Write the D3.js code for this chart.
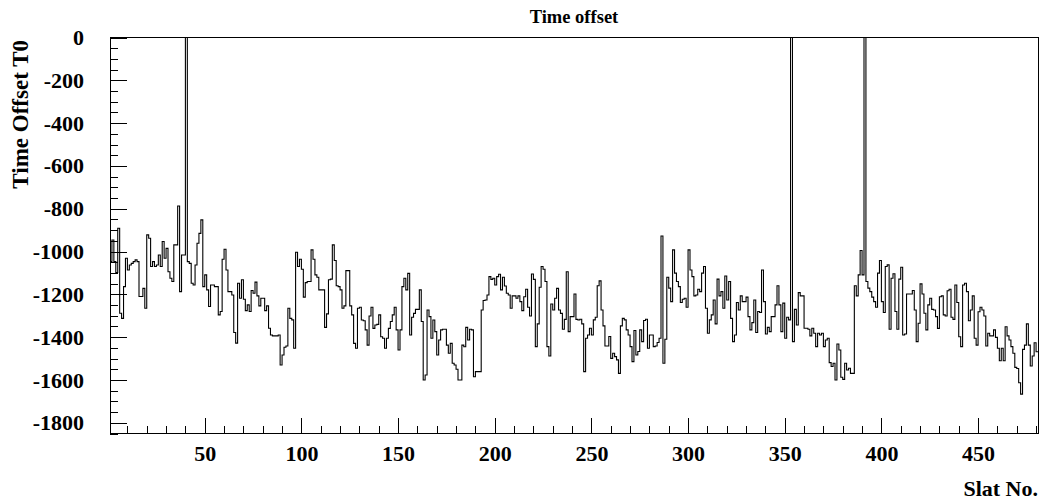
<!DOCTYPE html>
<html><head><meta charset="utf-8">
<script src="https://cdn.jsdelivr.net/npm/d3@7"></script>
<style>body{margin:0;background:#fff;} svg{display:block;}</style>
</head><body>
<svg id="chart" width="1041" height="500"></svg>
<script>
// ---- data ----
const chartTitle = "Time offset";
const xTitle = "Slat No.";
const yTitle = "Time Offset T0";
const firstSlat = 1;
const lastSlatEdge = 481;
const timeOffset = [
-1047,-946,-1047,-1098,-891,-1288,-1312,-1164,-1031,-1086,
-1063,-1055,-1047,-1039,-1047,-1210,-1210,-1172,-1265,-922,
-938,-1070,-1047,-1070,-1063,-1016,-1070,-953,-1031,-985,
-1094,-1125,-1140,-969,-969,-787,-1187,-1016,-1016,0,
-1047,-1055,-1148,-1156,-1063,-961,-915,-852,-1164,-1109,
-1179,-1257,-1156,-1156,-1164,-1164,-1296,-1280,-1036,-989,
-1086,-1187,-1187,-1203,-1378,-1428,-1148,-1218,-1132,-1223,
-1276,-1249,-1280,-1182,-1195,-1143,-1207,-1254,-1218,-1218,
-1276,-1254,-1358,-1390,-1394,-1394,-1394,-1390,-1530,-1483,
-1447,-1441,-1265,-1312,-1319,-1452,-1003,-1070,-1036,-1083,
-1213,-1145,-1140,-1140,-992,-1036,-1109,-1120,-1179,-1179,
-1179,-1354,-1291,-1132,-1129,-969,-1042,-1160,-1164,-1179,
-1265,-1254,-1089,-1089,-1254,-1296,-1429,-1452,-1265,-1260,
-1320,-1323,-1366,-1437,-1301,-1260,-1359,-1343,-1340,-1296,
-1398,-1405,-1452,-1405,-1359,-1327,-1296,-1260,-1366,-1460,
-1366,-1164,-1125,-1179,-1102,-1390,-1307,-1289,-1270,-1270,
-1179,-1327,-1600,-1577,-1273,-1304,-1405,-1320,-1374,-1483,
-1413,-1366,-1363,-1363,-1437,-1475,-1429,-1522,-1530,-1550,
-1600,-1600,-1437,-1445,-1354,-1413,-1363,-1366,-1585,-1561,
-1561,-1561,-1273,-1229,-1226,-1203,-1117,-1130,-1125,-1156,
-1117,-1106,-1179,-1120,-1161,-1195,-1203,-1265,-1207,-1207,
-1218,-1207,-1234,-1276,-1211,-1176,-1260,-1301,-1105,-1130,
-1444,-1338,-1167,-1070,-1083,-1140,-1444,-1488,-1245,-1273,
-1218,-1172,-1273,-1289,-1363,-1317,-1094,-1374,-1304,-1304,
-1198,-1317,-1320,-1316,-1338,-1561,-1405,-1390,-1358,-1390,
-1319,-1307,-1160,-1137,-1273,-1347,-1441,-1441,-1397,-1499,
-1475,-1491,-1506,-1569,-1347,-1312,-1319,-1366,-1390,-1444,
-1514,-1369,-1483,-1467,-1366,-1421,-1322,-1316,-1452,-1390,
-1390,-1444,-1441,-1425,-1405,-927,-1522,-1410,-1120,-1171,
-1234,-992,-1101,-1140,-1164,-1238,-1223,-1218,-1260,-992,
-1086,-1117,-1207,-1203,-1176,-1187,-1101,-1070,-1265,-1382,
-1319,-1296,-1226,-1338,-1129,-1207,-1187,-1265,-1114,-1226,
-1140,-1312,-1421,-1390,-1238,-1273,-1207,-1234,-1234,-1213,
-1304,-1366,-1332,-1226,-1378,-1280,-1285,-1086,-1234,-1385,
-1354,-1374,-1304,-1304,-1249,-1160,-1249,-1374,-1241,-1405,
-1307,-1319,0,-1421,-1270,-1343,-1192,-1207,-1207,-1358,
-1358,-1363,-1394,-1358,-1382,-1444,-1382,-1390,-1382,-1444,
-1413,-1405,-1519,-1537,-1522,-1600,-1432,-1460,-1587,-1597,
-1522,-1553,-1545,-1569,-1569,-1160,-1207,-1109,-995,-1109,
0,-1140,-1171,-1187,-1213,-1234,-1260,-1101,-1042,-1234,
-1285,-1070,-1062,-1363,-1125,-1104,-1280,-1363,-1129,-1073,
-1390,-1385,-1198,-1198,-1198,-1182,-1273,-1421,-1335,-1151,
-1198,-1288,-1366,-1249,-1218,-1270,-1273,-1304,-1359,-1211,
-1207,-1296,-1301,-1183,-1176,-1307,-1317,-1156,-1238,-1398,
-1444,-1156,-1148,-1187,-1323,-1273,-1207,-1405,-1437,-1281,
-1260,-1273,-1301,-1441,-1382,-1394,-1394,-1366,-1401,-1452,
-1510,-1452,-1510,-1351,-1394,-1413,-1444,-1475,-1541,-1546,
-1613,-1666,-1457,-1437,-1338,-1437,-1535,-1488,-1426,-1468
];
const xMajorTicks = [50,100,150,200,250,300,350,400,450];
const xMinorTicks = [10,20,30,40,60,70,80,90,110,120,130,140,160,170,180,190,210,220,230,240,260,270,280,290,310,320,330,340,360,370,380,390,410,420,430,440,460,470,480];
const yMajorTicks = [0,-200,-400,-600,-800,-1000,-1200,-1400,-1600,-1800];
const yMinorTicks = [-50,-100,-150,-250,-300,-350,-450,-500,-550,-650,-700,-750,-850,-900,-950,-1050,-1100,-1150,-1250,-1300,-1350,-1450,-1500,-1550,-1650,-1700,-1750,-1850];
const yMin = -1850, yMax = 0;

// ---- drawing ----
const svg = d3.select("#chart");
const L = 110, R = 1038, T = 37.5, B = 433.5;
const x = d3.scaleLinear().domain([firstSlat, lastSlatEdge]).range([L, R]);
const y = d3.scaleLinear().domain([yMin, yMax]).range([B, T]);
const font = "'Liberation Serif', 'Times New Roman', serif";
const plainNum = d => String(d);

// histogram step line
const pts = timeOffset.map((v, i) => [firstSlat + i, v]);
pts.push([lastSlatEdge, timeOffset[timeOffset.length - 1]]);
const line = d3.line().x(d => x(d[0])).y(d => y(d[1])).curve(d3.curveStepAfter);
svg.append("clipPath").attr("id","clip").append("rect")
  .attr("x", L).attr("y", T).attr("width", R - L).attr("height", B - T);
svg.append("path").datum(pts)
  .attr("d", line).attr("fill", "none").attr("stroke", "#000")
  .attr("stroke-width", 1.1).attr("clip-path", "url(#clip)");

// axes
function styleAxis(g) {
  g.select(".domain").remove();
  g.selectAll("line").attr("stroke", "#000").attr("stroke-width", 1).attr("shape-rendering", "crispEdges");
  g.selectAll("text").attr("font-family", font).attr("font-weight", "bold").attr("font-size", 22).attr("fill", "#000");
}
svg.append("g").attr("transform", `translate(${L},0)`)
  .call(d3.axisLeft(y).tickValues(yMinorTicks).tickSizeInner(-8).tickSizeOuter(0).tickFormat(""))
  .call(styleAxis);
svg.append("g").attr("transform", `translate(${L},0)`)
  .call(d3.axisLeft(y).tickValues(yMajorTicks).tickSizeInner(-17).tickSizeOuter(0).tickPadding(26).tickFormat(plainNum))
  .call(styleAxis);
svg.append("g").attr("transform", `translate(0,${B})`)
  .call(d3.axisBottom(x).tickValues(xMinorTicks).tickSizeInner(-8).tickSizeOuter(0).tickFormat(""))
  .call(styleAxis);
svg.append("g").attr("transform", `translate(0,${B})`)
  .call(d3.axisBottom(x).tickValues(xMajorTicks).tickSizeInner(-16).tickSizeOuter(0).tickPadding(12).tickFormat(plainNum))
  .call(styleAxis);

// frame
svg.append("rect").attr("x", L).attr("y", T).attr("width", R - L).attr("height", B - T)
  .attr("fill", "none").attr("stroke", "#000").attr("stroke-width", 1).attr("shape-rendering", "crispEdges");

// titles
svg.append("text").attr("x", (L + R) / 2).attr("y", 23).attr("text-anchor", "middle")
  .attr("font-family", font).attr("font-weight", "bold").attr("font-size", 18.5).text(chartTitle);
svg.append("text").attr("x", R).attr("y", 496).attr("text-anchor", "end")
  .attr("font-family", font).attr("font-weight", "bold").attr("font-size", 22).text(xTitle);
svg.append("text").attr("transform", `translate(28,40) rotate(-90)`).attr("text-anchor", "end")
  .attr("font-family", font).attr("font-weight", "bold").attr("font-size", 23).text(yTitle);
</script>
</body></html>
